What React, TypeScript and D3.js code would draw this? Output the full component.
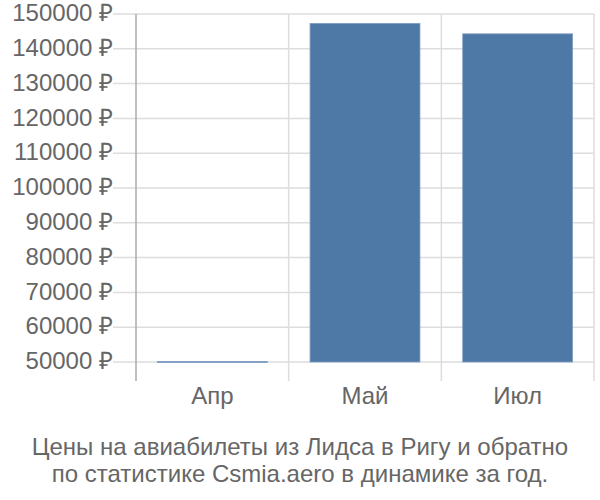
import React from "react";
import * as d3 from "d3";

const categories = ["Апр", "Май", "Июл"];
const prices = [50150, 147300, 144300];
const yTicks = [50000, 60000, 70000, 80000, 90000, 100000, 110000, 120000, 130000, 140000, 150000];
const titleLines = [
  "Цены на авиабилеты из Лидса в Ригу и обратно",
  "по статистике Csmia.aero в динамике за год.",
];

export default function App() {
  const W = 600, H = 500;
  const left = 136, right = 594, top = 14, base = 362, bottomLine = 381;
  const x = d3.scaleBand<string>().domain(categories).range([left, right]).paddingInner(0.28).paddingOuter(0.14);
  const y = d3.scaleLinear().domain([50000, 150000]).range([base, top]);
  const xEdges = categories.map((_, i) => left + ((right - left) / categories.length) * (i + 1));
  const font = "'Liberation Sans', Arial, sans-serif";
  const fs = 24;
  return (
    <svg width={W} height={H} style={{ position: "absolute", left: 0, top: 0 }} fontFamily={font}>
      {yTicks.map((t) => (
        <g key={t}>
          <line x1={113} x2={right} y1={y(t)} y2={y(t)} stroke="#dddddd" strokeWidth={1.5} />
          <text x={113} y={y(t)} dy="0.3em" textAnchor="end" fontSize={fs} fill="#666">
            {t} ₽
          </text>
        </g>
      ))}
      {xEdges.map((xe, i) => (
        <line key={i} x1={xe} x2={xe} y1={top} y2={bottomLine} stroke="#dddddd" strokeWidth={1.5} />
      ))}
      {categories.map((c, i) => (
        <rect
          key={c}
          x={x(c)}
          y={y(prices[i])}
          width={x.bandwidth()}
          height={Math.max(1, base - y(prices[i]))}
          fill="#4e79a7"
          stroke="#7f9fc4"
          strokeWidth={0.8}
        />
      ))}
      <line x1={left} x2={left} y1={top} y2={bottomLine} stroke="#aaaaaa" strokeWidth={1.5} />
      {categories.map((c) => (
        <text key={c} x={(x(c) as number) + x.bandwidth() / 2} y={404} textAnchor="middle" fontSize={fs} fill="#666">
          {c}
        </text>
      ))}
      {titleLines.map((l, i) => (
        <text key={i} x={300} y={455 + i * 27} textAnchor="middle" fontSize={fs} fill="#666">
          {l}
        </text>
      ))}
    </svg>
  );
}
